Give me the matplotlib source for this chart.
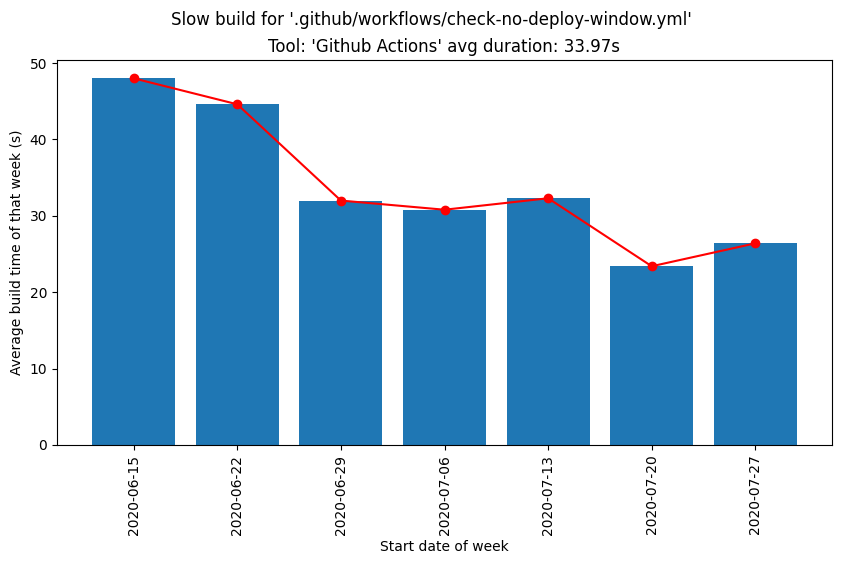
import matplotlib
matplotlib.use('Agg')
import matplotlib.pyplot as plt

weeks = ['2020-06-15', '2020-06-22', '2020-06-29', '2020-07-06', '2020-07-13', '2020-07-20', '2020-07-27']
durations = [48.0, 44.6, 32.0, 30.8, 32.3, 23.4, 26.4]

fig, ax = plt.subplots(figsize=(8.41, 5.64), dpi=100)
ax.bar(weeks, durations)
ax.plot(weeks, durations, color='red', marker='o')

ax.set_title("Tool: 'Github Actions' avg duration: 33.97s")
ax.set_xlabel('Start date of week')
ax.set_ylabel('Average build time of that week (s)')
ax.tick_params(axis='x', rotation=90)
fig.suptitle("Slow build for '.github/workflows/check-no-deploy-window.yml'", x=431/841)

fig.subplots_adjust(left=57/841, right=832/841, top=1-60/564, bottom=1-445/564)
fig.savefig('out.png', dpi=100)
